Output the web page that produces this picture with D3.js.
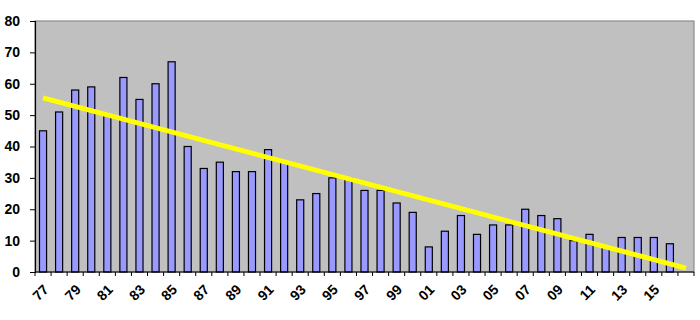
<!DOCTYPE html>
<html>
<head>
<meta charset="utf-8">
<script src="https://cdn.jsdelivr.net/npm/d3@7"></script>
<style>
  body { margin: 0; background: #fff; }
  text { font-family: "Liberation Sans", Arial, sans-serif; font-weight: bold; }
</style>
</head>
<body>
<div id="chart"></div>
<script>
// years 1977..2017 (last category empty)
const years = d3.range(1977, 2018);
const values = [45, 51, 58, 59, 50, 62, 55, 60, 67, 40, 33, 35, 32, 32, 39, 35, 23, 25, 30, 30,
  26, 26, 22, 19, 8, 13, 18, 12, 15, 15, 20, 18, 17, 10, 12, 8, 11, 11, 11, 9];
const yTicks = [0, 10, 20, 30, 40, 50, 60, 70, 80];

const width = 700, height = 320;
const margin = {top: 21, right: 6, bottom: 48, left: 35};

const svg = d3.select('#chart').append('svg')
  .attr('width', width).attr('height', height);

const x = d3.scaleBand()
  .domain(years)
  .range([margin.left, width - margin.right])
  .paddingInner(0.56).paddingOuter(0.28);

const y = d3.scaleLinear()
  .domain([0, 80])
  .range([height - margin.bottom, margin.top]);

// plot background
svg.append('rect')
  .attr('x', margin.left).attr('y', margin.top)
  .attr('width', width - margin.right - margin.left)
  .attr('height', y(0) - margin.top)
  .attr('fill', '#c0c0c0')
  .attr('stroke', '#8c8c8c').attr('stroke-width', 1.2);

const bars = years.slice(0, values.length).map((yr, i) => ({yr, v: values[i]}));
svg.append('g').selectAll('rect')
  .data(bars)
  .join('rect')
  .attr('x', d => x(d.yr))
  .attr('y', d => y(d.v))
  .attr('width', x.bandwidth())
  .attr('height', d => y(0) - y(d.v))
  .attr('fill', '#9999ff')
  .attr('stroke', '#000')
  .attr('stroke-width', 1.2);

// linear trendline from the data, extended over all categories
const idx = bars.map((d, i) => i);
const mx = d3.mean(idx), my = d3.mean(values);
const slope = d3.sum(idx, i => (i - mx) * (values[i] - my)) / d3.sum(idx, i => (i - mx) ** 2);
const icpt = my - slope * mx;
const cx = yr => x(yr) + x.bandwidth() / 2;
svg.append('path')
  .datum([0, years.length - 1])
  .attr('fill', 'none')
  .attr('stroke', '#ffff00')
  .attr('stroke-width', 5)
  .attr('d', d3.line().x(i => cx(years[i])).y(i => y(icpt + slope * i)));

// y axis
svg.append('g')
  .attr('transform', `translate(${margin.left},0)`)
  .call(d3.axisLeft(y).tickValues(yTicks).tickSize(5).tickPadding(10))
  .call(g => g.select('.domain').attr('stroke', '#000').attr('stroke-width', 1.2))
  .call(g => g.selectAll('text').attr('font-size', 14).attr('fill', '#000'));

// x axis: ticks between categories, labels every other year
const step = x.step();
const bottom = svg.append('g').attr('transform', `translate(0,${y(0)})`);
bottom.append('line')
  .attr('x1', margin.left).attr('x2', width - margin.right)
  .attr('stroke', '#000').attr('stroke-width', 1.2);
bottom.selectAll('line.tk')
  .data(d3.range(years.length + 1))
  .join('line').attr('class', 'tk')
  .attr('x1', i => margin.left + i * step).attr('x2', i => margin.left + i * step)
  .attr('y1', 0).attr('y2', 4)
  .attr('stroke', '#000');
bottom.selectAll('text')
  .data(years.filter((yr, i) => i % 2 === 0 && i < values.length))
  .join('text')
  .attr('transform', yr => `translate(${cx(yr) + 3},${15}) rotate(-45)`)
  .attr('text-anchor', 'end')
  .attr('dy', '0.35em')
  .attr('font-size', 14)
  .text(yr => String(yr % 100).padStart(2, '0'));
</script>
</body>
</html>
